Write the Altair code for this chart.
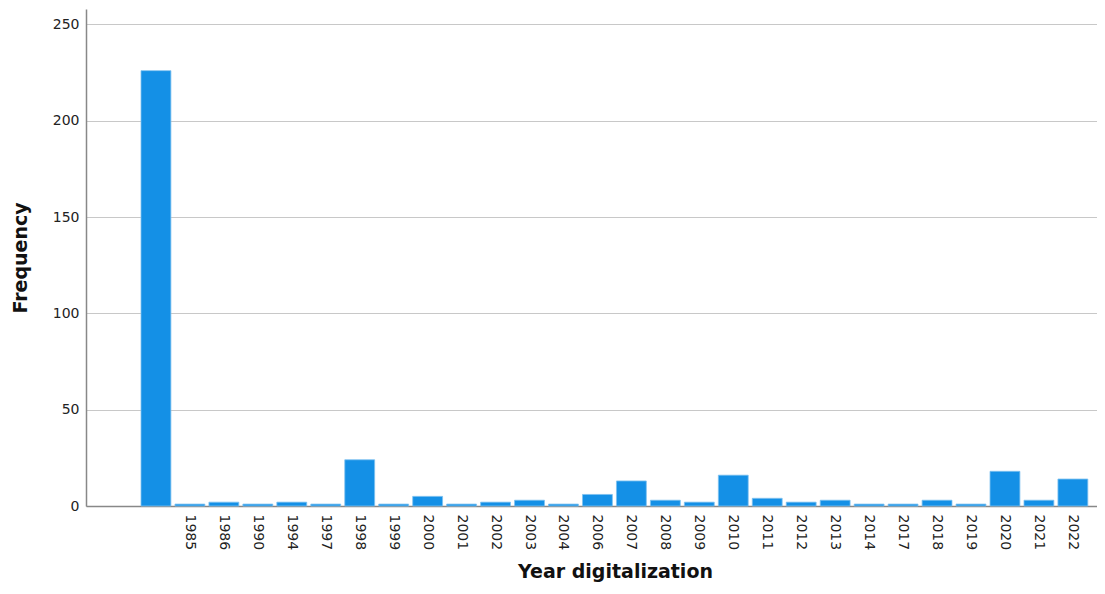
import altair as alt
import pandas as pd

years = ["", "1985", "1986", "1990", "1994", "1997", "1998", "1999", "2000", "2001",
         "2002", "2003", "2004", "2006", "2007", "2008", "2009", "2010", "2011", "2012",
         "2013", "2014", "2017", "2018", "2019", "2020", "2021", "2022"]
freq = [226, 1, 2, 1, 2, 1, 24, 1, 5, 1,
        2, 3, 1, 6, 13, 3, 2, 16, 4, 2,
        3, 1, 1, 3, 1, 18, 3, 14]

df = pd.DataFrame({"year": years, "freq": freq})

FONT = "DejaVu Sans"

chart = alt.Chart(df).mark_bar(
    color="#1490e6", stroke="#7fc1f0", strokeWidth=0.8
).encode(
    x=alt.X("year:N", sort=years,
            scale=alt.Scale(paddingInner=0.12, paddingOuter=0.945, align=0.857),
            axis=alt.Axis(title="Year digitalization", labelAngle=90, labelAlign="left",
                          labelBaseline="middle", labelFont=FONT, labelFontSize=14,
                          labelColor="#222", labelPadding=8, ticks=False,
                          domainColor="#888", domainWidth=1.5,
                          titleFont=FONT, titleFontSize=19, titleFontWeight="bold",
                          titleColor="#111", titlePadding=13, titleX=529)),
    y=alt.Y("freq:Q",
            scale=alt.Scale(domain=[0, 258], nice=False),
            axis=alt.Axis(title="Frequency", values=[0, 50, 100, 150, 200, 250],
                          labelFont=FONT, labelFontSize=14, labelColor="#222",
                          labelPadding=7, ticks=False, grid=True,
                          gridColor="#c8c8c8", gridWidth=1.2,
                          domainColor="#888", domainWidth=1.5,
                          titleFont=FONT, titleFontSize=19, titleFontWeight="bold",
                          titleColor="#111", titlePadding=22)),
).properties(
    width=1011, height=497,
    autosize=alt.AutoSizeParams(type="none"),
    padding={"left": 78, "top": 1, "right": 0, "bottom": 80},
).configure_view(
    stroke=None
)

chart.save("out.html", embed_options={"renderer": "svg", "actions": False})
